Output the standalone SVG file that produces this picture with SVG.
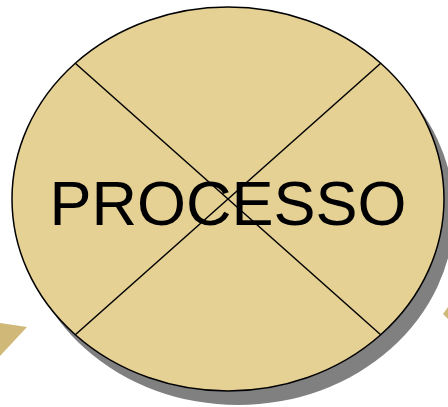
<svg xmlns="http://www.w3.org/2000/svg" width="448" height="407" viewBox="0 0 448 407">
<style>
.arrow{fill:#CFB878;}
.line{stroke:#000;stroke-width:1.5;fill:none;}
</style>
<rect width="448" height="407" fill="#fff"/>
<polygon class="arrow" points="0,323 27,327 0,356"/>
<polygon class="arrow" points="443,314 448,307 448,319"/>
<g id="processo">
<ellipse cx="238" cy="213" rx="216" ry="192" fill="#808080"/>
<ellipse cx="228" cy="199" rx="216" ry="192" fill="#E6D195" stroke="#000" stroke-width="1.5"/>
<g id="connectors">
<line class="line" x1="75.3" y1="63.2" x2="380.7" y2="334.8"/>
<line class="line" x1="380.7" y1="63.2" x2="75.3" y2="334.8"/>
</g>
<text x="228" y="225" text-anchor="middle" font-family="Liberation Sans, Arial, sans-serif" font-size="63" fill="#000">PROCESSO</text>
</g>
</svg>
